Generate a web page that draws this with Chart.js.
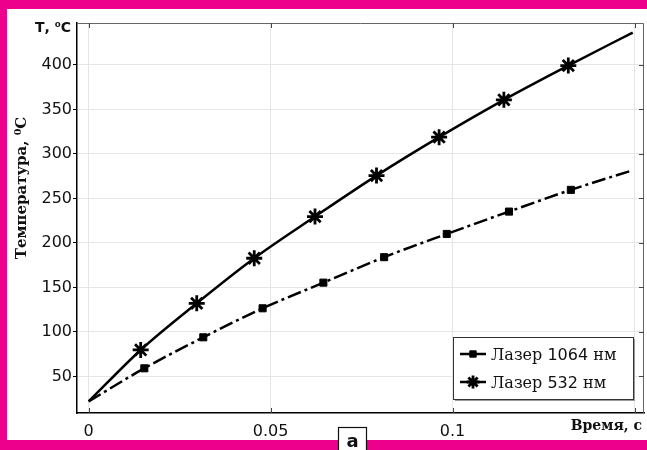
<!DOCTYPE html>
<html>
<head>
<meta charset="utf-8">
<script src="https://cdn.jsdelivr.net/npm/chart.js@4/dist/chart.umd.min.js"></script>
<style>
  html, body { margin: 0; padding: 0; background: #fff; }
  canvas { display: block; }
</style>
</head>
<body>
<canvas id="myChart" width="647" height="450"></canvas>
<script>
// ---- data ----
var time532 = [0, 0.0143, 0.0297, 0.0455, 0.0622, 0.0791, 0.0963, 0.1141, 0.1318, 0.1495];
var temp532 = [22, 79.8, 132.2, 182.8, 229.6, 275.6, 318.8, 360.7, 399.2, 436.3];
var time1064 = [0, 0.0153, 0.0315, 0.0478, 0.0645, 0.0812, 0.0984, 0.1155, 0.1325, 0.149];
var temp1064 = [22, 59.2, 94.0, 126.6, 155.4, 184.0, 210.1, 235.2, 259.6, 281];
var xTicks = [0, 0.05, 0.1, 0.15];
var xTickLabels = ['0', '0.05', '0.1', ''];
var yTicks = [50, 100, 150, 200, 250, 300, 350, 400];
var seriesNames = ['Лазер 1064 нм', 'Лазер 532 нм'];

function pts(xs, ys) {
    return xs.map(function (x, i) { return { x: x, y: ys[i] }; });
}
// markers only on inner points
function radii(n, r) {
    return Array.from({ length: n }, function (_, i) { return (i === 0 || i === n - 1) ? 0 : r; });
}

var MAGENTA = '#ec008c';

// frame, labels and custom legend
var decor = {
    id: 'decor',
    beforeDraw: function (chart) {
        var ctx = chart.ctx;
        ctx.save();
        ctx.fillStyle = '#fff';
        ctx.fillRect(0, 0, chart.width, chart.height);
        ctx.restore();
    },
    afterDraw: function (chart) {
        var ctx = chart.ctx, a = chart.chartArea;
        var xs = chart.scales.x, ys = chart.scales.y;
        ctx.save();

        // plot frame
        ctx.strokeStyle = '#666';
        ctx.lineWidth = 1;
        ctx.beginPath();
        ctx.moveTo(a.left, a.top + 0.5);
        ctx.lineTo(a.right - 0.5, a.top + 0.5);
        ctx.lineTo(a.right - 0.5, a.bottom);
        ctx.stroke();

        // inner ticks
        ctx.strokeStyle = '#444';
        ctx.beginPath();
        yTicks.forEach(function (v) {
            var y = Math.round(ys.getPixelForValue(v)) + 0.5;
            ctx.moveTo(a.right - 5, y); ctx.lineTo(a.right, y);
        });
        xTicks.forEach(function (v) {
            var x = Math.round(xs.getPixelForValue(v)) + 0.5;
            ctx.moveTo(x, a.top); ctx.lineTo(x, a.top + 5);
            ctx.moveTo(x, a.bottom); ctx.lineTo(x, a.bottom - 5);
        });
        ctx.stroke();

        // axis titles
        ctx.fillStyle = '#111';
        ctx.font = 'bold 14px "DejaVu Sans"';
        ctx.textBaseline = 'alphabetic';
        ctx.textAlign = 'left';
        ctx.fillText('Т, ⁰С', 35, 32);

        ctx.font = 'bold 14px "DejaVu Serif"';
        ctx.textAlign = 'right';
        ctx.fillText('Время, с', 642, 430);

        ctx.save();
        ctx.translate(26, 188);
        ctx.rotate(-Math.PI / 2);
        ctx.textAlign = 'center';
        ctx.font = 'bold 15px "DejaVu Serif"';
        ctx.fillText('Температура, ⁰С', 0, 0);
        ctx.restore();

        // legend
        var lx = 453, ly = 337, lw = 180, lh = 62;
        ctx.fillStyle = '#999';
        ctx.fillRect(lx + 2, ly + 2, lw, lh);
        ctx.fillStyle = '#fff';
        ctx.fillRect(lx, ly, lw, lh);
        ctx.strokeStyle = '#333';
        ctx.lineWidth = 1;
        ctx.strokeRect(lx + 0.5, ly + 0.5, lw, lh);

        chart.data.datasets.forEach(function (ds, i) {
            var yy = [354, 382][i];
            ctx.save();
            ctx.strokeStyle = '#000';
            ctx.lineWidth = 2.5;
            ctx.beginPath();
            ctx.moveTo(460, yy); ctx.lineTo(486, yy);
            ctx.stroke();
            ctx.fillStyle = '#000';
            ctx.strokeStyle = '#000';
            ctx.lineWidth = ds.pointBorderWidth;
            Chart.helpers.drawPoint(ctx, {
                pointStyle: ds.pointStyle,
                radius: ds.legendRadius,
                borderWidth: ds.pointBorderWidth,
                rotation: 0
            }, 473, yy);
            ctx.restore();

            var parts = ds.label.split(' ');
            var tx = 491, base = yy + 6;
            ctx.fillStyle = '#111';
            ctx.textAlign = 'left';
            ctx.font = '16px "DejaVu Serif"';
            ctx.fillText(parts[0] + ' ', tx, base);
            tx += ctx.measureText(parts[0] + ' ').width;
            ctx.font = '16px "DejaVu Sans"';
            ctx.fillText(parts[1] + ' ', tx, base);
            tx += ctx.measureText(parts[1] + ' ').width;
            ctx.font = '16px "DejaVu Serif"';
            ctx.fillText(parts[2], tx, base);
        });

        // magenta frame
        ctx.fillStyle = MAGENTA;
        ctx.fillRect(0, 0, chart.width, 9);
        ctx.fillRect(0, 0, 7, chart.height);
        ctx.fillRect(0, 440, chart.width, chart.height - 440);

        // label box "а"
        ctx.fillStyle = '#fff';
        ctx.fillRect(338, 427, 29, 24);
        ctx.strokeStyle = '#111';
        ctx.lineWidth = 1.2;
        ctx.strokeRect(338.5, 427.5, 28, 24);
        ctx.fillStyle = '#111';
        ctx.font = 'bold 18px "DejaVu Sans"';
        ctx.textAlign = 'center';
        ctx.fillText('а', 352.5, 447);

        ctx.restore();
    }
};

var ctx = document.getElementById('myChart').getContext('2d');
var chart = new Chart(ctx, {
    type: 'line',
    data: {
        datasets: [{
            label: seriesNames[0],
            data: pts(time1064, temp1064),
            borderColor: '#000',
            backgroundColor: '#000',
            borderWidth: 2.5,
            borderDash: [14, 4, 3, 4],
            pointStyle: 'rect',
            pointRadius: radii(time1064.length, 5),
            pointBorderWidth: 1,
            legendRadius: 4.5,
            pointBackgroundColor: '#000',
            pointBorderColor: '#000',
            cubicInterpolationMode: 'monotone',
            fill: false
        }, {
            label: seriesNames[1],
            data: pts(time532, temp532),
            borderColor: '#000',
            backgroundColor: '#000',
            borderWidth: 2.5,
            pointStyle: 'star',
            pointRadius: radii(time532.length, 8),
            pointBorderWidth: 2.8,
            legendRadius: 6.5,
            pointBackgroundColor: '#000',
            pointBorderColor: '#000',
            cubicInterpolationMode: 'monotone',
            fill: false
        }]
    },
    options: {
        responsive: false,
        animation: false,
        devicePixelRatio: 1,
        layout: { padding: { left: 0, top: 23, right: 3, bottom: 0 } },
        plugins: {
            legend: { display: false },
            tooltip: { enabled: false }
        },
        scales: {
            x: {
                type: 'linear',
                min: -0.0032,
                max: 0.1526,
                afterBuildTicks: function (s) { s.ticks = xTicks.map(function (v) { return { value: v }; }); },
                afterFit: function (s) { s.height = 37; },
                grid: { color: '#e6e6e6', lineWidth: 1, drawTicks: false },
                border: { color: '#000', width: 1.5 },
                ticks: {
                    padding: 9,
                    color: '#111',
                    font: { family: 'DejaVu Sans', size: 16 },
                    maxRotation: 0,
                    callback: function (v, i) { return xTickLabels[i]; }
                }
            },
            y: {
                min: 9,
                max: 447,
                afterBuildTicks: function (s) { s.ticks = yTicks.map(function (v) { return { value: v }; }); },
                afterFit: function (s) { s.width = 77; },
                grid: { color: '#e6e6e6', lineWidth: 1, drawTicks: true, tickLength: 4, tickColor: '#000' },
                border: { color: '#000', width: 1.5 },
                ticks: {
                    padding: 1,
                    color: '#111',
                    font: { family: 'DejaVu Sans', size: 16 }
                }
            }
        }
    },
    plugins: [decor]
});
</script>
</body>
</html>
